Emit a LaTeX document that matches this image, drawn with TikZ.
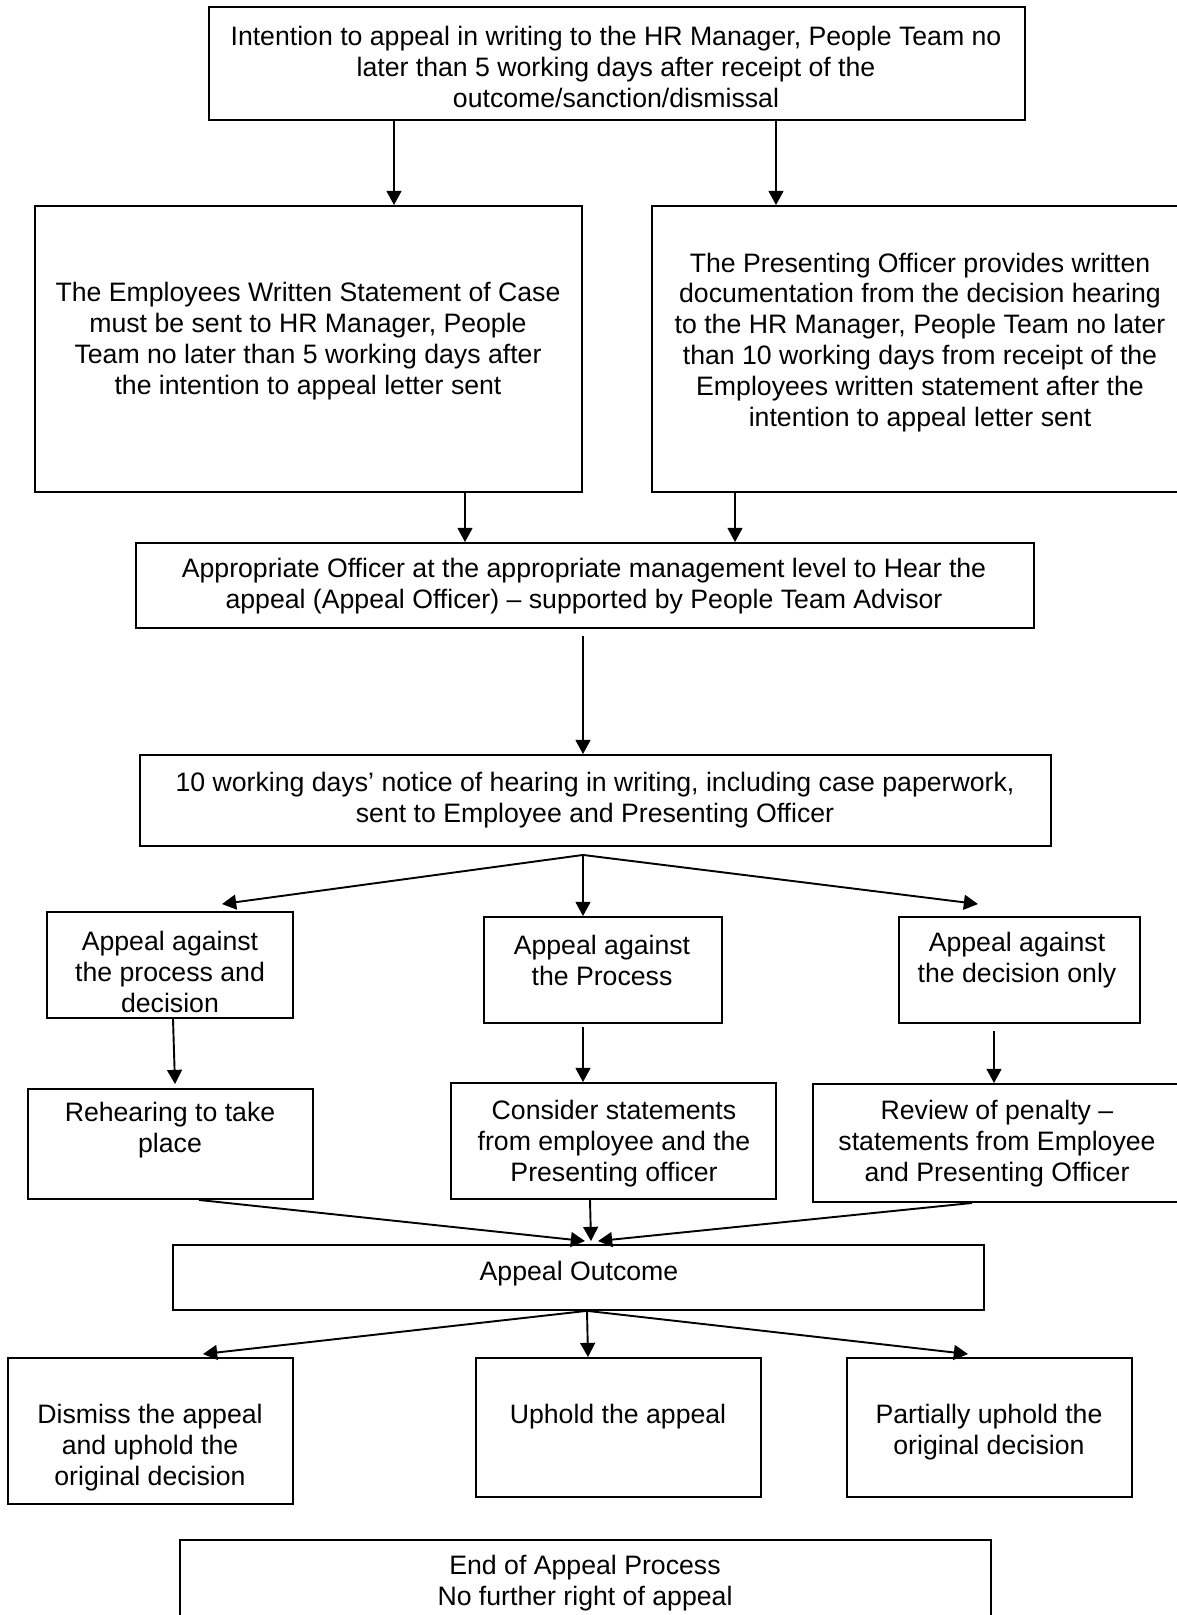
\documentclass[tikz,border=0pt]{standalone}
\usepackage{fontspec}
\setmainfont{Liberation Sans}
\usetikzlibrary{arrows.meta,fit,calc}
\begin{document}
\begin{tikzpicture}[x=0.4444pt,y=-0.4444pt,
 box/.style={draw=black,line width=0.85pt,inner sep=0pt},
 txt/.style={align=center,inner sep=0pt,font=\fontsize{11.85}{13.75}\selectfont},
 arr/.style={-{Triangle[length=6.3pt,width=6.6pt]},line width=0.85pt}]
\fill[white] (0,0) rectangle (1177,1615);
\path[use as bounding box] (0,0) rectangle (1177,1615);
\clip (0,0) rectangle (1177,1615);

\node[box,fit={(209,7)(1025,120)}] (top) {};
\node[txt] (ttop) at (616,67) {Intention to appeal in writing to the HR Manager, People Team no\\later than 5 working days after receipt of the\\outcome/sanction/dismissal};

\node[box,fit={(35,206)(582,492)}] (left) {};
\node[txt] (tleft) at (308,341.5) {The Employees Written Statement of Case\\must be sent to HR Manager, People\\Team no later than 5 working days after\\the intention to appeal letter sent};

\node[box,fit={(652,206)(1190,492)}] (right) {};
\node[txt] (tright) at (920,342.5) {The Presenting Officer provides written\\documentation from the decision hearing\\to the HR Manager, People Team no later\\than 10 working days from receipt of the\\Employees written statement after the\\intention to appeal letter sent};

\node[box,fit={(136,543)(1034,628)}] (approp) {};
\node[txt] (tapprop) at (584,586) {Appropriate Officer at the appropriate management level to Hear the\\appeal (Appeal Officer) – supported by People Team Advisor};

\node[box,fit={(140,755)(1051,846)}] (ten) {};
\node[txt] (tten) at (595,800) {10 working days’ notice of hearing in writing, including case paperwork,\\sent to Employee and Presenting Officer};

\node[box,fit={(47,912)(293,1018)}] (A1) {};
\node[txt] (tA1) at (170,972) {Appeal against\\the process and\\decision};
\node[box,fit={(484,917)(722,1023)}] (A2) {};
\node[txt] (tA2) at (602,960.5) {Appeal against\\the Process};
\node[box,fit={(899,917)(1140,1023)}] (A3) {};
\node[txt] (tA3) at (1017,960.5) {Appeal against\\the decision only};

\node[box,fit={(28,1089)(313,1199)}] (R1) {};
\node[txt] (tR1) at (170,1130.5) {Rehearing to take\\place};
\node[box,fit={(451,1083)(776,1199)}] (C) {};
\node[txt] (tC) at (614,1144) {Consider statements\\from employee and the\\Presenting officer};
\node[box,fit={(813,1084)(1184,1202)}] (RP) {};
\node[txt] (tRP) at (997,1144) {Review of penalty –\\statements from Employee\\and Presenting Officer};

\node[box,fit={(173,1245)(984,1310)}] (Out) {};
\node[txt] (tOut) at (579,1273.5) {Appeal Outcome};

\node[box,fit={(8,1358)(293,1504)}] (D) {};
\node[txt] (tD) at (150,1447.5) {Dismiss the appeal\\and uphold the\\original decision};
\node[box,fit={(476,1358)(761,1497)}] (U) {};
\node[txt] (tU) at (618,1416.5) {Uphold the appeal};
\node[box,fit={(847,1358)(1132,1497)}] (P) {};
\node[txt] (tP) at (989,1432) {Partially uphold the\\original decision};

\node[box,fit={(180,1540)(991,1660)}] (End) {};
\node[txt] (tEnd) at (585,1583) {End of Appeal Process\\No further right of appeal};

% connectors
\draw[arr] (top.south -| 394,0) -- (left.north -| 394,0);
\draw[arr] (top.south -| 776,0) -- (right.north -| 776,0);
\draw[arr] (left.south -| 465,0) -- (approp.north -| 465,0);
\draw[arr] (right.south -| 735,0) -- (approp.north -| 735,0);
\draw[arr] ($(approp.south -| 583,0)+(0,7)$) -- (ten.north -| 583,0);

\draw[arr] ($(ten.south -| 583,0)+(0,8)$) -- ($(A1.north -| 222,0)+(0,-7)$);
\draw[arr] ($(ten.south -| 583,0)+(0,8)$) -- (A2.north -| 583,0);
\draw[arr] ($(ten.south -| 583,0)+(0,8)$) -- ($(A3.north -| 978,0)+(0,-12)$);

\draw[arr] (A1.south -| 173,0) -- ($(R1.north -| 175,0)+(0,-4)$);
\draw[arr] ($(A2.south -| 583,0)+(0,3)$) -- (C.north -| 583,0);
\draw[arr] ($(A3.south -| 994,0)+(0,7)$) -- (RP.north -| 994,0);

\draw[arr] (R1.south -| 199,0) -- ($(Out.north -| 585,0)+(0,-3)$);
\draw[arr] (C.south -| 590,0) -- ($(Out.north -| 591,0)+(0,-3)$);
\draw[arr] (RP.south -| 972,0) -- ($(Out.north -| 598,0)+(0,-3)$);

\draw[arr] (Out.south -| 586,0) -- ($(D.north -| 203,0)+(0,-3)$);
\draw[arr] (Out.south -| 587,0) -- (U.north -| 588,0);
\draw[arr] (Out.south -| 588,0) -- ($(P.north -| 968,0)+(0,-3)$);
\end{tikzpicture}
\end{document}
